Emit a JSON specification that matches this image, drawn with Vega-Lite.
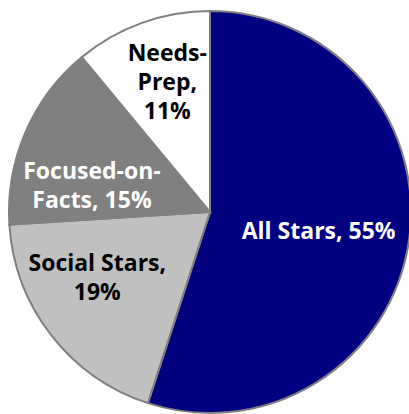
{
  "$schema": "https://vega.github.io/schema/vega-lite/v6.json",
  "width": 420,
  "height": 424,
  "padding": 0,
  "autosize": "none",
  "background": "white",
  "config": {
    "view": {"stroke": null},
    "text": {"font": "Open Sans", "fontWeight": "bold", "fontSize": 23, "align": "center", "baseline": "middle", "lineBreak": "\n", "lineHeight": 29}
  },
  "data": {
    "values": [
      {"segment": "All Stars", "share": 55, "label": "All Stars, 55%"},
      {"segment": "Social Stars", "share": 19, "label": "Social Stars,\n19%"},
      {"segment": "Focused-on-Facts", "share": 15, "label": "Focused-on-\nFacts, 15%"},
      {"segment": "Needs-Prep", "share": 11, "label": "Needs-\nPrep,\n11%"}
    ]
  },
  "transform": [
    {"stack": "share", "groupby": [], "sort": [{"field": "share", "order": "descending"}], "as": ["t0", "t1"]},
    {"calculate": "(datum.t0 + datum.t1) / 2", "as": "tm"}
  ],
  "layer": [
    {
      "mark": {"type": "arc", "outerRadius": 201, "stroke": "#808080", "strokeWidth": 2},
      "encoding": {
        "theta": {"field": "t0", "type": "quantitative", "scale": {"domain": [0, 100]}},
        "theta2": {"field": "t1"},
        "color": {
          "field": "segment",
          "type": "nominal",
          "scale": {
            "domain": ["All Stars", "Social Stars", "Focused-on-Facts", "Needs-Prep"],
            "range": ["#000080", "#c0c0c0", "#808080", "#ffffff"]
          },
          "legend": null
        }
      }
    },
    {
      "transform": [{"filter": "datum.segment === 'All Stars'"}],
      "mark": {"type": "text", "radius": 110, "dy": 3, "fill": "#ffffff"},
      "encoding": {
        "theta": {"field": "tm", "type": "quantitative", "scale": {"domain": [0, 100]}},
        "text": {"field": "label"}
      }
    },
    {
      "transform": [{"filter": "datum.segment === 'Social Stars'"}],
      "mark": {"type": "text", "radius": 130, "dx": -10, "dy": -28, "fill": "#000000"},
      "encoding": {
        "theta": {"field": "tm", "type": "quantitative", "scale": {"domain": [0, 100]}},
        "text": {"field": "label"}
      }
    },
    {
      "transform": [{"filter": "datum.segment === 'Focused-on-Facts'"}],
      "mark": {"type": "text", "radius": 121, "dx": -7, "dy": 8, "fill": "#ffffff"},
      "encoding": {
        "theta": {"field": "tm", "type": "quantitative", "scale": {"domain": [0, 100]}},
        "text": {"field": "label"}
      }
    },
    {
      "transform": [{"filter": "datum.segment === 'Needs-Prep'"}],
      "mark": {"type": "text", "radius": 138, "dx": 4, "dy": -28, "fill": "#000000"},
      "encoding": {
        "theta": {"field": "tm", "type": "quantitative", "scale": {"domain": [0, 100]}},
        "text": {"field": "label"}
      }
    }
  ]
}
